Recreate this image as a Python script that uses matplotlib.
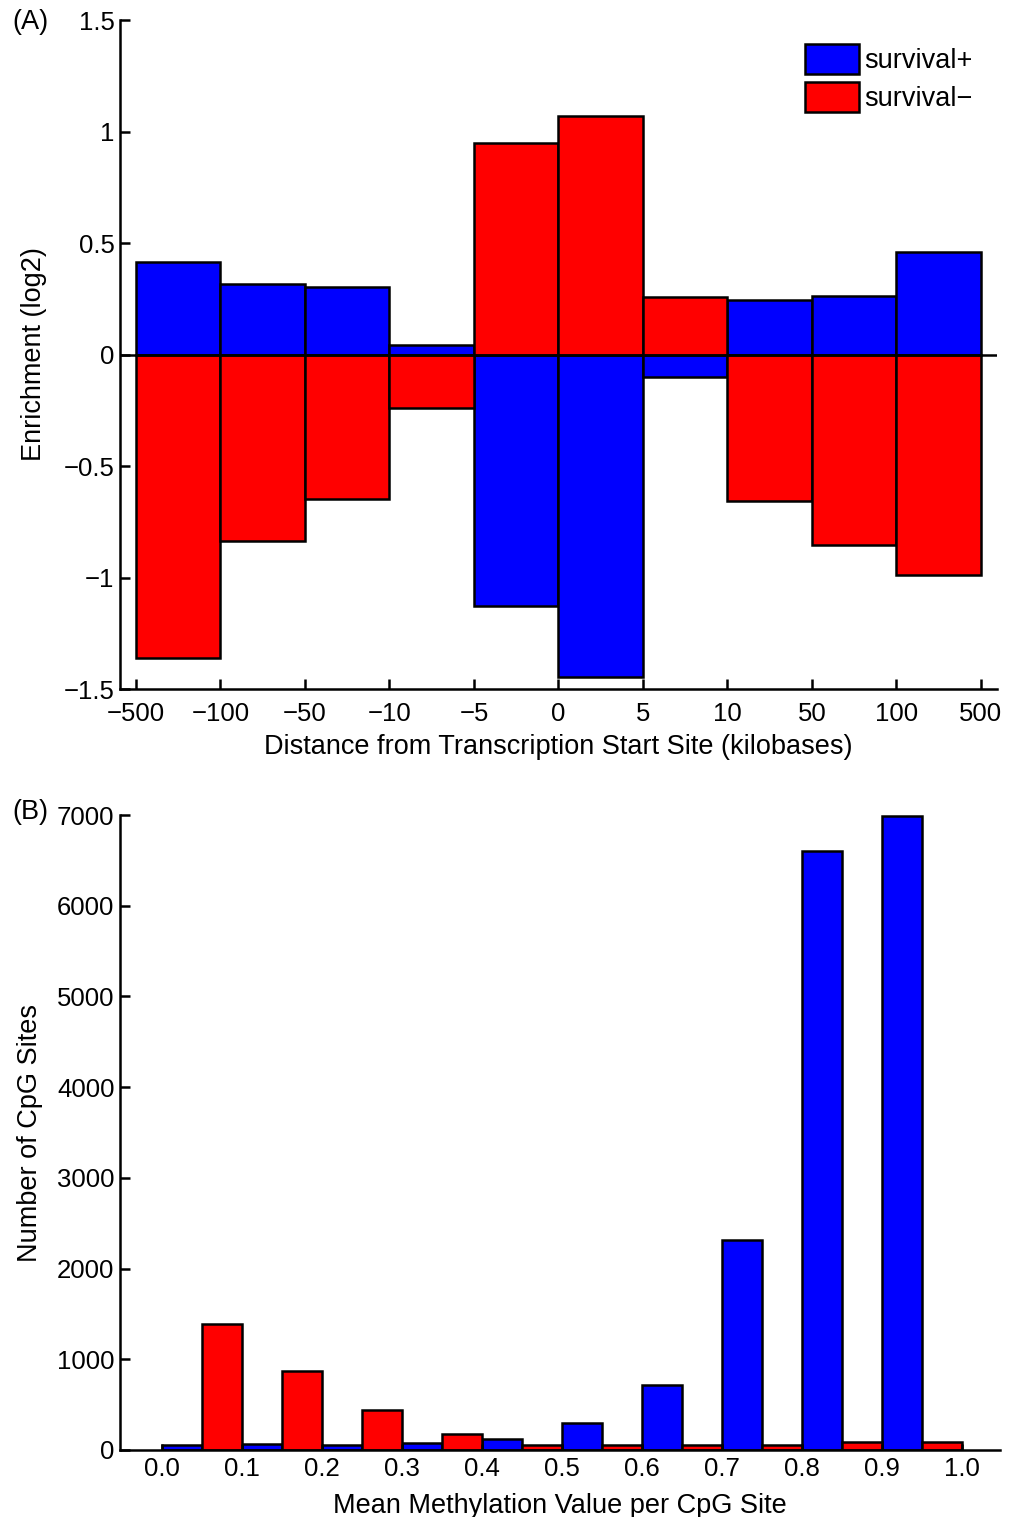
import numpy as np
import matplotlib
matplotlib.use("Agg")
import matplotlib.pyplot as plt

plt.rcParams['font.family'] = ['Liberation Sans', 'DejaVu Sans']

# Panel A: enrichment by distance bin
dist_ticks = ['\u2212500', '\u2212100', '\u221250', '\u221210', '\u22125', '0', '5', '10', '50', '100', '500']
surv_pos_enrich = [0.415, 0.316, 0.303, 0.043, -1.128, -1.446, -0.10, 0.244, 0.262, 0.46]
surv_neg_enrich = [-1.361, -0.836, -0.648, -0.24, 0.948, 1.07, 0.258, -0.657, -0.854, -0.989]

# Panel B: histogram of mean methylation
meth_bins = [0.0, 0.1, 0.2, 0.3, 0.4, 0.5, 0.6, 0.7, 0.8, 0.9]
surv_pos_counts = [50, 70, 50, 80, 120, 300, 720, 2310, 6600, 6990]
surv_neg_counts = [1390, 870, 440, 180, 60, 55, 55, 55, 85, 85]
meth_ticks = ['0.0', '0.1', '0.2', '0.3', '0.4', '0.5', '0.6', '0.7', '0.8', '0.9', '1.0']

BLUE = '#0000ff'
RED = '#ff0000'
FS = 19.5     # axis labels / legend
TFS = 18.5    # tick labels
LW = 1.8

fig = plt.figure(figsize=(10.2, 15.17), dpi=100)
axA = fig.add_axes([0.1176, 0.5458, 0.8598, 0.441])
axB = fig.add_axes([0.1176, 0.0442, 0.8627, 0.4185])

for ax in (axA, axB):
    ax.spines['top'].set_visible(False)
    ax.spines['right'].set_visible(False)
    ax.spines['left'].set_linewidth(LW)
    ax.spines['bottom'].set_linewidth(LW)
    ax.tick_params(direction='in', length=7, width=LW, labelsize=TFS, pad=4)

# --- panel A
idx = np.arange(len(surv_pos_enrich)) + 0.5
axA.bar(idx, surv_pos_enrich, width=1.0, color=BLUE, edgecolor='black', linewidth=LW, label='survival+')
axA.bar(idx, surv_neg_enrich, width=1.0, color=RED, edgecolor='black', linewidth=LW, label='survival\u2212')
axA.axhline(0, color='black', linewidth=LW)
axA.set_xlim(-0.19, 10.19)
axA.set_ylim(-1.5, 1.5)
axA.set_xticks(np.arange(len(dist_ticks)))
axA.set_xticklabels(dist_ticks)
axA.tick_params(axis='x', pad=9)
axA.set_yticks([-1.5, -1, -0.5, 0, 0.5, 1, 1.5])
axA.set_yticklabels(['\u22121.5', '\u22121', '\u22120.5', '0', '0.5', '1', '1.5'])
axA.set_xlabel('Distance from Transcription Start Site (kilobases)', fontsize=FS, labelpad=6)
axA.set_ylabel('Enrichment (log2)', fontsize=FS, labelpad=12)
axA.legend(loc='upper right', bbox_to_anchor=(0.985, 0.98), frameon=False, fontsize=FS,
           handlelength=2.0, handleheight=1.3, handletextpad=0.2, labelspacing=0.3,
           borderaxespad=0)

# --- panel B
bins = np.array(meth_bins)
axB.bar(bins + 0.025, surv_pos_counts, width=0.05, color=BLUE, edgecolor='black', linewidth=LW)
axB.bar(bins + 0.075, surv_neg_counts, width=0.05, color=RED, edgecolor='black', linewidth=LW)
axB.set_xlim(-0.0525, 1.0475)
axB.set_ylim(0, 7000)
axB.set_xticks(np.arange(len(meth_ticks)) * 0.1)
axB.set_xticklabels(meth_ticks)
axB.tick_params(axis='x', length=4, pad=5)
axB.set_yticks(np.arange(0, 7001, 1000))
axB.set_xlabel('Mean Methylation Value per CpG Site', fontsize=FS, labelpad=9)
axB.set_ylabel('Number of CpG Sites', fontsize=FS, labelpad=10)

fig.text(12 / 1020, 1 - 22 / 1517, '(A)', fontsize=FS, va='center', ha='left')
fig.text(12 / 1020, 1 - 812 / 1517, '(B)', fontsize=FS, va='center', ha='left')

fig.savefig('out.png', dpi=100)
